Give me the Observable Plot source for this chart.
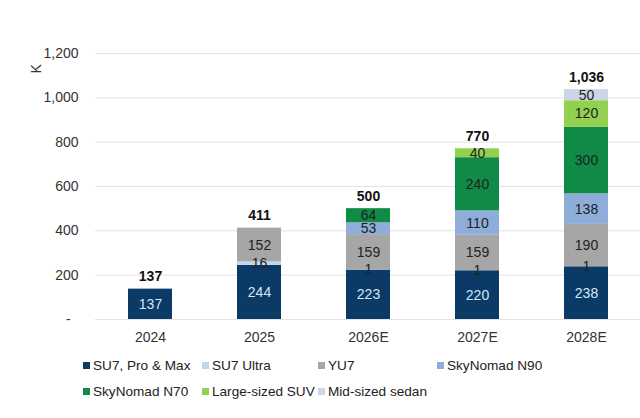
<!DOCTYPE html>
<html>
<head>
<meta charset="utf-8">
<script src="https://cdn.jsdelivr.net/npm/d3@7"></script>
<script src="https://cdn.jsdelivr.net/npm/@observablehq/plot@0.6"></script>
<style>
  body { margin: 0; background: #fff; font-family: "Liberation Sans", Arial, sans-serif; }
  #legend { display: grid; grid-template-columns: 119px 116px 119px auto; margin-left: 83px; margin-top: 2px; font-size: 13.6px; color: #222; }
  #legend .item { display: flex; align-items: center; height: 26px; white-space: nowrap; }
  #legend .sw { width: 7px; height: 7px; margin-right: 3px; flex: none; }
</style>
</head>
<body>
<div id="chart"></div>
<div id="legend"></div>
<script>
const years = ["2024", "2025", "2026E", "2027E", "2028E"];
const seriesNames = ["SU7, Pro & Max", "SU7 Ultra", "YU7", "SkyNomad N90", "SkyNomad N70", "Large-sized SUV", "Mid-sized sedan"];
const seriesColors = ["#0b3a66", "#bdd8ee", "#a6a6a6", "#8eadd9", "#0f8a47", "#92d050", "#cdd5e6"];
const su7ProMax = [137, 244, 223, 220, 238];
const su7Ultra = [0, 16, 1, 1, 1];
const yu7 = [0, 152, 159, 159, 190];
const skyN90 = [0, 0, 53, 110, 138];
const skyN70 = [0, 0, 64, 240, 300];
const largeSuv = [0, 0, 0, 40, 120];
const midSedan = [0, 0, 0, 0, 50];
const totals = [137, 411, 500, 770, 1036];
const yTicks = [0, 200, 400, 600, 800, 1000, 1200];

const seriesValues = [su7ProMax, su7Ultra, yu7, skyN90, skyN70, largeSuv, midSedan];
const rows = [];
seriesNames.forEach((s, si) => {
  years.forEach((yr, yi) => {
    const v = seriesValues[si][yi];
    if (v > 0) rows.push({year: yr, series: s, value: v});
  });
});
const totalRows = years.map((yr, i) => ({year: yr, total: totals[i]}));

const fmt = d3.format(",");
const chart = Plot.plot({
  width: 640,
  height: 350,
  marginLeft: 95,
  marginRight: 0,
  marginTop: 53,
  marginBottom: 31,
  style: {fontFamily: "Liberation Sans, Arial, sans-serif", fontSize: "14px", color: "#333"},
  x: {domain: years, paddingInner: 0.6, paddingOuter: 0.3, label: null, tickSize: 0, tickPadding: 13},
  y: {domain: [0, 1200], ticks: yTicks, label: null, tickSize: 0, tickPadding: 17,
      tickFormat: d => d === 0 ? "-\u00a0\u00a0" : fmt(d)},
  color: {domain: seriesNames, range: seriesColors},
  marks: [
    Plot.ruleY(yTicks, {stroke: "#e2e2e2", strokeWidth: 1}),
    Plot.barY(rows, Plot.stackY({x: "year", y: "value", z: "series", fill: "series", order: seriesNames})),
    Plot.text(rows, Plot.stackY({x: "year", y: "value", z: "series", order: seriesNames, text: d => String(d.value),
      fill: d => d.series === "SU7, Pro & Max" ? "#d3e6f7" : "#222", fontSize: 14})),
    Plot.text(totalRows, {x: "year", y: "total", text: d => fmt(d.total), fontWeight: "bold", fontSize: 14,
      fill: "#111", lineAnchor: "bottom", dy: -8}),
    Plot.text(["K"], {frameAnchor: "top-left", dx: -64, dy: 20, rotate: -90, fontSize: 14, fill: "#333"})
  ]
});
document.getElementById("chart").appendChild(chart);

const legend = document.getElementById("legend");
seriesNames.forEach((s, i) => {
  const item = document.createElement("div");
  item.className = "item";
  const sw = document.createElement("span");
  sw.className = "sw";
  sw.style.background = seriesColors[i];
  const t = document.createElement("span");
  t.textContent = s;
  item.appendChild(sw);
  item.appendChild(t);
  legend.appendChild(item);
});
</script>
</body>
</html>
